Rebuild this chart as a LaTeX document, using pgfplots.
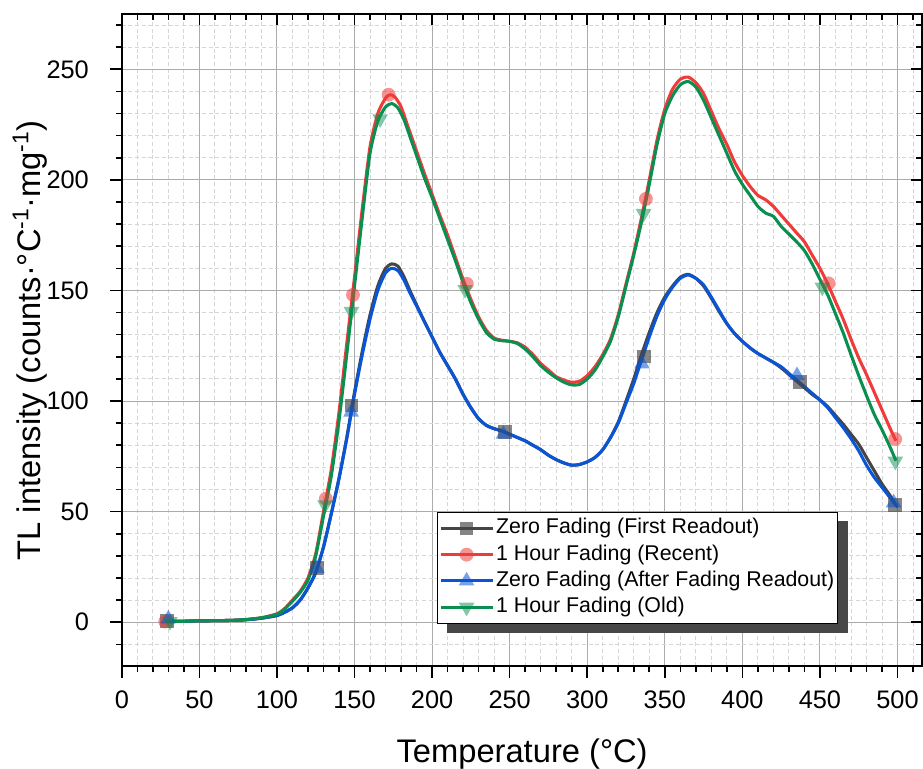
\documentclass[border=0pt]{standalone}
\usepackage{fontspec}
\setmainfont{Liberation Sans}
\usepackage{pgfplots}
\pgfplotsset{compat=1.18}
\definecolor{cgray}{HTML}{454545}
\definecolor{cred}{HTML}{F03B3B}
\definecolor{cblue}{HTML}{0A55D5}
\definecolor{cgreen}{HTML}{0A8F50}
\definecolor{cshadow}{HTML}{474747}

\pgfplotsset{
  curve/.style={smooth, tension=0.4, line width=2.3pt, color=#1, forget plot},
  lgimg/.style={legend image code/.code={
    \draw[line width=2.3pt, draw=#1] (0pt,0pt) -- (39pt,0pt);
    \draw[mark repeat=2, mark phase=2, ##1] plot coordinates {(0pt,0pt)(19.5pt,0pt)(39pt,0pt)};
  }},
  frame/.style={
    scale only axis, width=600pt, height=489pt,
    xmin=0, xmax=516, ymin=-20, ymax=275,
    xtick={0,50,...,500}, ytick={0,50,...,250},
    minor xtick={0,10,...,510}, minor ytick={-10,0,...,270},
    major tick length=8.5pt, minor tick length=4.5pt,
    every tick/.style={black, line width=1.2pt},
    axis line style={line width=1.5pt},
  },
}

\begin{document}
\begin{tikzpicture}
\begin{axis}[frame,
  xtick pos=bottom, ytick pos=left, tick align=outside,
  grid=both,
  major grid style={color=black!33, line width=0.8pt},
  minor grid style={color=black!16, line width=0.7pt, dash pattern=on 3pt off 2pt},
  /pgf/number format/assume math mode=true,
  tick label style={font=\fontsize{19}{22}\selectfont},
  xticklabel style={anchor=base, inner sep=0pt, yshift=-23pt},
  yticklabel style={anchor=east, inner sep=0pt, xshift=-16pt},
  xlabel={Temperature (°C)},
  ylabel={TL intensity (counts·°C\textsuperscript{-1}·mg\textsuperscript{-1})},
  every axis x label/.style={at={(rel axis cs:0.5,0)}, anchor=base, yshift=-72pt, font=\fontsize{24.5}{30}\selectfont},
  every axis y label/.style={at={(rel axis cs:0,0.5)}, xshift=-61pt, rotate=90, anchor=base, font=\fontsize{24.5}{30}\selectfont},
  legend cell align=left,
  legend style={name=lgd, at={(0.394,0.2366)}, anchor=north west,
    font=\fontsize{16}{19}\selectfont, draw=black, line width=0.75pt, fill=white,
    inner xsep=1pt, inner ysep=2pt,
    nodes={inner sep=1.5pt, text height=12.4pt, text depth=4.3pt}},
]

% Zero Fading (First Readout)
\addplot[curve=cgray] coordinates {
(29,0.3)(40,0.4)(50,0.6)(60,0.7)(70,0.8)(80,1.1)(90,1.8)(100,3)(105,4.5)(110,6.5)(115,10)(120,15.5)(125,22.5)(130,34)(135,49)(140,65)(145,83.5)(150,104)(155,122.5)(160,139)(165,152)(170,160)(174,162)(178,161)(182,156)(186,149.5)(190,143.5)(195,136)(200,129)(205,122)(210,116)(215,110)(220,103)(225,97)(230,92)(235,89)(240,87.5)(245,86.5)(250,85)(255,83.5)(260,82)(265,80)(270,78)(275,75.5)(280,73.5)(285,72)(290,71)(295,71.3)(300,72.5)(305,74.5)(310,78)(315,83.5)(320,90.5)(325,100)(330,110)(335,121)(340,131)(345,140)(350,147)(355,152)(360,156)(365,157.3)(370,155.5)(375,152)(380,146.5)(385,140.5)(390,135)(395,130.5)(400,127)(405,124)(410,121.5)(415,119.5)(420,117.5)(425,115)(430,112)(435,109)(440,106)(445,103)(450,100.5)(455,97.5)(460,93.5)(465,89.5)(470,85)(475,80.5)(480,74.5)(485,68.5)(490,62.5)(495,57.5)(499,53)
};
\addplot[only marks, mark=square*, mark size=5.1pt, lgimg=cgray,
  mark options={draw opacity=0, fill=cgray, fill opacity=0.65}] coordinates {
(29,0.5)(125.7,24.4)(148,98)(247,86)(336.7,120.2)(437,108.5)(498.5,53)
};
\addlegendentry{Zero Fading (First Readout)}

% 1 Hour Fading (Recent)
\addplot[curve=cred] coordinates {
(28,0.3)(40,0.4)(50,0.6)(60,0.7)(70,0.8)(80,1.2)(90,2)(100,3.8)(105,6.2)(110,10)(115,14)(120,20)(125,31)(130,50)(135,69)(140,95)(145,126)(150,156)(155,187)(160,215)(165,230)(170,237)(173,238.5)(176,237.5)(180,233)(185,223)(190,213)(195,203)(200,193.5)(205,184)(210,175)(215,165)(220,155)(225,146)(230,138)(235,132)(240,128.5)(245,127.5)(250,127)(255,126.3)(260,124.3)(265,121)(270,117)(275,114)(280,111)(285,109.5)(290,108.5)(295,109)(300,111.5)(305,115.5)(310,121)(315,128)(320,139)(325,153)(330,167)(335,183)(340,200)(345,218)(350,232)(355,241)(360,245.5)(365,246.5)(370,244)(375,239)(380,231)(385,223)(390,216)(395,208)(400,202)(405,197)(410,193)(415,191)(420,188)(425,184)(430,180)(435,176)(440,172)(445,166)(450,160)(455,153)(460,145)(465,137)(470,128)(475,119.5)(480,112)(485,104)(490,96)(495,88)(499,82)
};
\addplot[only marks, mark=*, mark size=5.2pt, lgimg=cred,
  mark options={draw opacity=0, fill=cred, fill opacity=0.55}] coordinates {
(28,0.3)(131.5,55.8)(149,148)(172,238.5)(222.4,153)(337.8,191.4)(455.5,153.2)(498.5,82.8)
};
\addlegendentry{1 Hour Fading (Recent)}

% Zero Fading (After Fading Readout)
\addplot[curve=cblue] coordinates {
(30,0.5)(40,0.5)(50,0.6)(60,0.7)(70,0.8)(80,1.1)(90,1.8)(100,3)(105,4.5)(110,6.5)(115,10)(120,15.5)(125,22.5)(130,34)(135,49)(140,65)(145,83)(150,103)(155,121)(160,137)(165,150)(170,158)(174,160)(178,159)(182,154.5)(186,148.5)(190,143)(195,136)(200,129)(205,122)(210,116)(215,110)(220,103)(225,97)(230,92)(235,89)(240,87.5)(245,86.5)(250,85)(255,83.5)(260,82)(265,80)(270,78)(275,75.5)(280,73.5)(285,72)(290,71)(295,71.3)(300,72.5)(305,74.5)(310,78)(315,83.5)(320,90)(325,99)(330,108)(335,118.5)(340,129)(345,138.5)(350,146)(355,151.5)(360,155.5)(365,157)(370,155.5)(375,152.5)(380,147)(385,141)(390,135)(395,130.5)(400,127)(405,124)(410,121.5)(415,119.5)(420,117.5)(425,115.5)(430,112.5)(435,109.5)(440,106.5)(445,103.5)(450,100.5)(455,97)(460,92.5)(465,88)(470,83)(475,77.5)(480,71)(485,65.5)(490,61)(495,56.5)(500,52)
};
\addplot[only marks, mark=triangle*, mark size=6.8pt, lgimg=cblue,
  mark options={draw opacity=0, fill=cblue, fill opacity=0.55}] coordinates {
(30,1.5)(125.7,24.4)(147.8,95)(246,85)(335.3,116.8)(435.2,111.5)(497.5,54)
};
\addlegendentry{Zero Fading (After Fading Readout)}

% 1 Hour Fading (Old)
\addplot[curve=cgreen] coordinates {
(31,0.3)(40,0.4)(50,0.6)(60,0.7)(70,0.8)(80,1.2)(90,2)(100,3.5)(105,6)(110,9.5)(115,13.5)(120,19)(125,30)(130,48)(135,66)(140,91)(145,121)(150,152)(155,183)(160,212)(165,226.5)(170,233)(174,234.5)(178,232.5)(182,227)(186,219)(190,211)(195,201)(200,192)(205,182.5)(210,173)(215,163.5)(220,153.5)(225,144.5)(230,137)(235,131)(240,128)(245,127.3)(250,127)(255,126)(260,123.5)(265,120)(270,116)(275,113)(280,110.5)(285,108.5)(290,107.3)(295,107.5)(300,110)(305,114)(310,120)(315,127)(320,138)(325,152)(330,166)(335,181)(340,198)(345,216)(350,230)(355,238)(360,243)(365,244.5)(370,242)(375,236)(380,228)(385,220)(390,212)(395,204)(400,198)(405,193)(410,188)(415,185)(420,183.5)(425,179)(430,175.5)(435,172)(440,168)(445,162)(450,155)(455,148)(460,139.5)(465,130.8)(470,121)(475,111.5)(480,102.5)(485,94)(490,87)(495,79.5)(499,73)
};
\addplot[only marks, mark=triangle*, mark size=6.8pt, lgimg=cgreen,
  mark options={rotate=180, draw opacity=0, fill=cgreen, fill opacity=0.5}] coordinates {
(31,0.3)(131,53)(148,140.5)(166.5,227.6)(221.3,150.4)(336.3,184.8)(451.5,151.5)(498.6,72.8)
};
\addlegendentry{1 Hour Fading (Old)}
\end{axis}

% top and right ticks point inwards
\begin{axis}[frame,
  xtick pos=top, ytick pos=right, tick align=inside,
  xticklabel={\mbox{}}, yticklabel={\mbox{}},
]
\end{axis}

% legend shadow (right and bottom strips)
\fill[cshadow] ([yshift=-7pt]lgd.north east) rectangle ([xshift=7pt,yshift=-7pt]lgd.south east);
\fill[cshadow] ([xshift=7pt]lgd.south west) rectangle ([xshift=7pt,yshift=-7pt]lgd.south east);

\pgfresetboundingbox
\useasboundingbox (-91.3pt,-76.5pt) rectangle (600.5pt,499.5pt);
\end{tikzpicture}
\end{document}
